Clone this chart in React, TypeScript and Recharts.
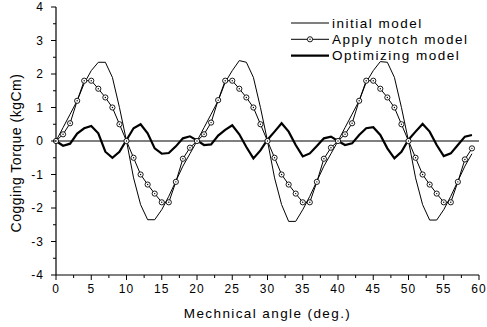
import { LineChart, Line, XAxis, YAxis, ReferenceLine, Legend } from "recharts";

const FONT = '"Liberation Sans", Arial, sans-serif';

const angles = [
  0, 1, 2, 3, 4, 5, 6, 7, 8, 9, 10, 11, 12, 13, 14, 15, 16, 17, 18, 19,
  20, 21, 22, 23, 24, 25, 26, 27, 28, 29, 30, 31, 32, 33, 34, 35, 36, 37, 38, 39,
  40, 41, 42, 43, 44, 45, 46, 47, 48, 49, 50, 51, 52, 53, 54, 55, 56, 57, 58, 59,
];

const initialModel = [
  0, 0.4, 0.8, 1.2, 1.72, 2.1, 2.35, 2.35, 1.9, 1.0, 0, -1.1, -1.9, -2.35, -2.35, -2.05, -1.65, -1.2, -0.75, -0.38,
  0, 0.4, 0.8, 1.2, 1.75, 2.1, 2.4, 2.35, 1.9, 1.0, 0, -1.1, -1.9, -2.4, -2.4, -2.05, -1.65, -1.2, -0.75, -0.38,
  0, 0.4, 0.8, 1.2, 1.75, 2.1, 2.37, 2.35, 1.9, 1.0, 0, -1.1, -1.9, -2.36, -2.36, -2.05, -1.65, -1.2, -0.75, -0.38,
];

const notchModel = [
  0, 0.2, 0.53, 1.2, 1.8, 1.8, 1.56, 1.3, 1.0, 0.5, 0, -0.5, -1.0, -1.3, -1.57, -1.83, -1.83, -1.22, -0.53, -0.2,
  0, 0.2, 0.55, 1.22, 1.8, 1.8, 1.56, 1.3, 1.0, 0.5, 0, -0.5, -1.0, -1.3, -1.57, -1.83, -1.83, -1.22, -0.53, -0.2,
  0, 0.2, 0.53, 1.2, 1.8, 1.8, 1.56, 1.3, 1.0, 0.5, 0, -0.5, -1.0, -1.3, -1.57, -1.83, -1.83, -1.22, -0.55, -0.22,
];

const optimizingModel = [
  0, -0.14, -0.08, 0.22, 0.38, 0.45, 0.23, -0.32, -0.5, -0.32, 0.03, 0.38, 0.5, 0.23, -0.22, -0.38, -0.36, -0.16, 0.08, 0.14,
  0.02, -0.12, -0.1, 0.16, 0.33, 0.47, 0.2, -0.18, -0.52, -0.28, 0.04, 0.28, 0.53, 0.28, -0.12, -0.46, -0.37, -0.15, 0.08, 0.13,
  0, -0.12, -0.07, 0.18, 0.38, 0.41, 0.18, -0.22, -0.52, -0.32, 0.04, 0.28, 0.51, 0.28, -0.12, -0.45, -0.37, -0.12, 0.13, 0.18,
];

const xTicks = [0, 2.5, 5, 7.5, 10, 12.5, 15, 17.5, 20, 22.5, 25, 27.5, 30, 32.5, 35, 37.5, 40, 42.5, 45, 47.5, 50, 52.5, 55, 57.5, 60];
const yTicks = [-4, -3.5, -3, -2.5, -2, -1.5, -1, -0.5, 0, 0.5, 1, 1.5, 2, 2.5, 3, 3.5, 4];

const series = [
  { key: "initial", name: "initial model", width: 1, marker: false },
  { key: "notch", name: "Apply notch model", width: 1, marker: true },
  { key: "optimizing", name: "Optimizing model", width: 2.2, marker: false },
];

const rows = angles.map((angle, i) => ({
  angle,
  initial: initialModel[i],
  notch: notchModel[i],
  optimizing: optimizingModel[i],
}));

function XTick({ x, y, payload }: any) {
  const major = payload.value % 5 === 0;
  return (
    <g>
      <line x1={x} x2={x} y1={y} y2={y + (major ? 5 : 3)} stroke="#000" strokeWidth={1} />
      {major && (
        <text x={x} y={y + 18} textAnchor="middle" fontSize={12} fontFamily={FONT} fill="#000" style={{ letterSpacing: 1 }}>
          {payload.value}
        </text>
      )}
    </g>
  );
}

function YTick({ x, y, payload }: any) {
  const major = Number.isInteger(payload.value);
  return (
    <g>
      <line x1={x} x2={x - (major ? 5 : 3)} y1={y} y2={y} stroke="#000" strokeWidth={1} />
      {major && (
        <text x={x - 12} y={y + 4.3} textAnchor="end" fontSize={12} fontFamily={FONT} fill="#000" style={{ letterSpacing: 1 }}>
          {payload.value}
        </text>
      )}
    </g>
  );
}

function NotchDot({ cx, cy, index }: any) {
  return (
    <g key={`notch-dot-${index}`}>
      <circle cx={cx} cy={cy} r={2.6} fill="#fff" stroke="#000" strokeWidth={0.9} />
      <circle cx={cx} cy={cy} r={0.7} fill="#000" />
    </g>
  );
}

// legend rows follow the series order, not the payload order
function LegendBox() {
  return (
    <svg width={190} height={54} style={{ display: "block" }}>
      {series.map((s, i) => {
        const y = 8 + i * 16.3;
        return (
          <g key={s.key}>
            <line x1={0} x2={38} y1={y} y2={y} stroke="#000" strokeWidth={s.width} />
            {s.marker && <NotchDot cx={19} cy={y} index={i} />}
            <text x={41} y={y + 4.7} fontSize={13.5} fontFamily={FONT} fill="#000" style={{ letterSpacing: 1.5 }}>
              {s.name}
            </text>
          </g>
        );
      })}
    </svg>
  );
}

export default function App() {
  return (
    <div style={{ position: "absolute", left: 0, top: 0, background: "#fff" }}>
      <LineChart width={487} height={327} data={rows} margin={{ top: 7, right: 8, bottom: 22, left: 16 }}>
        <XAxis
          dataKey="angle"
          type="number"
          domain={[0, 60]}
          ticks={xTicks}
          interval={0}
          tick={<XTick />}
          tickLine={false}
          tickSize={0}
          tickMargin={0}
          height={30}
          axisLine={{ stroke: "#000", strokeWidth: 1.2 }}
          label={({ viewBox }: any) => (
            <text
              x={viewBox.x + viewBox.width / 2}
              y={viewBox.y + 42.5}
              textAnchor="middle"
              fontSize={13.5}
              fontFamily={FONT}
              fill="#000"
              style={{ letterSpacing: 1.4 }}
            >
              Mechnical angle (deg.)
            </text>
          )}
        />
        <XAxis xAxisId="top" orientation="top" type="number" domain={[0, 60]} tick={false} tickLine={false} height={0} axisLine={{ stroke: "#000", strokeWidth: 1 }} />
        <YAxis
          type="number"
          domain={[-4, 4]}
          ticks={yTicks}
          interval={0}
          tick={<YTick />}
          tickLine={false}
          tickSize={0}
          tickMargin={0}
          width={40}
          axisLine={{ stroke: "#000", strokeWidth: 1.2 }}
          label={({ viewBox }: any) => {
            const cx = viewBox.x;
            const cy = viewBox.y + viewBox.height / 2 + 12;
            return (
              <text
                x={cx}
                y={cy}
                transform={`rotate(-90, ${cx}, ${cy})`}
                textAnchor="middle"
                dominantBaseline="central"
                fontSize={14}
                fontFamily={FONT}
                fill="#000"
                style={{ letterSpacing: 0.5 }}
              >
                Cogging Torque (kgCm)
              </text>
            );
          }}
        />
        <YAxis yAxisId="right" orientation="right" type="number" domain={[-4, 4]} tick={false} tickLine={false} width={0} axisLine={{ stroke: "#000", strokeWidth: 1 }} />
        <ReferenceLine y={0} stroke="#000" strokeWidth={1} />
        <Line dataKey="initial" name="initial model" stroke="#000" strokeWidth={1} dot={false} isAnimationActive={false} />
        <Line dataKey="notch" name="Apply notch model" stroke="#000" strokeWidth={1} dot={<NotchDot />} isAnimationActive={false} />
        <Line dataKey="optimizing" name="Optimizing model" stroke="#000" strokeWidth={2.2} dot={false} isAnimationActive={false} />
        <Legend
          layout="horizontal"
          verticalAlign="middle"
          align="center"
          content={<LegendBox />}
          wrapperStyle={{ left: 291, top: 14.5, width: 190, height: 54 }}
        />
      </LineChart>
    </div>
  );
}
